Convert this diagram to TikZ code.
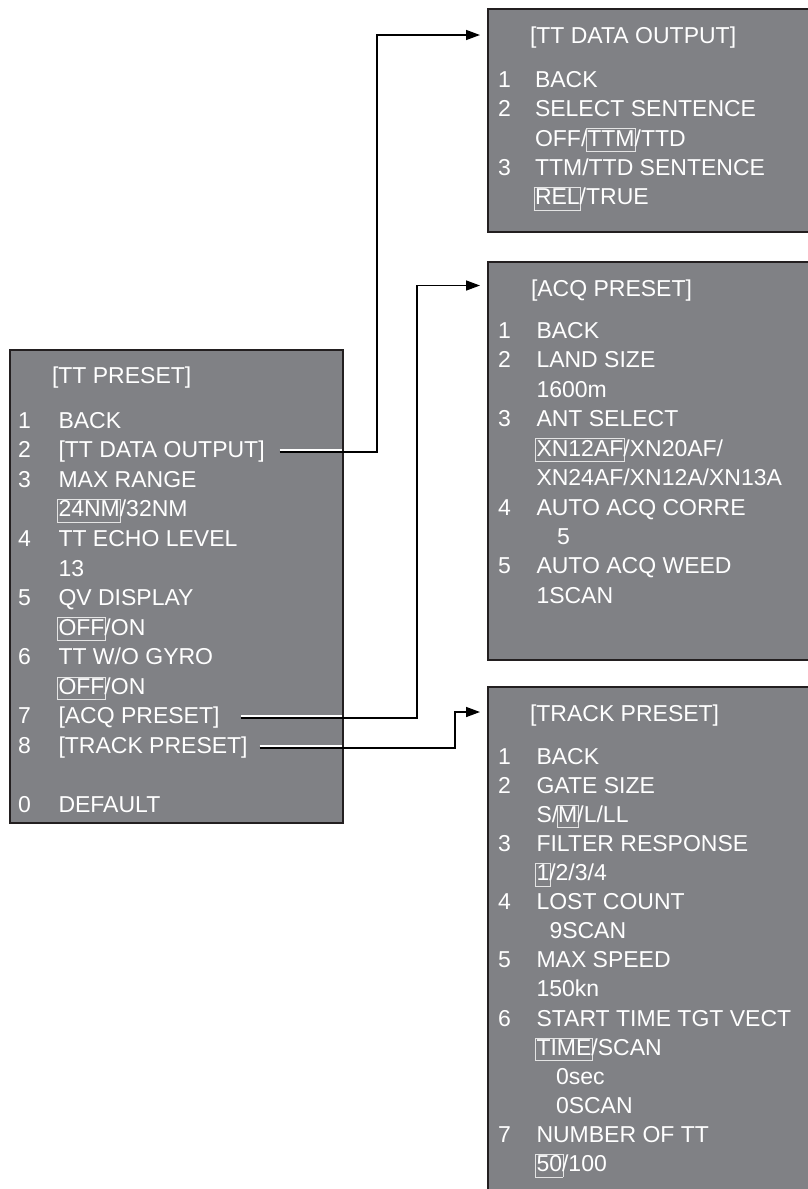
\documentclass[tikz,border=0pt]{standalone}
\usepackage{fontspec}
\setmainfont{Liberation Sans}
\usetikzlibrary{calc,arrows.meta}
\definecolor{panel}{RGB}{128,129,133}
\definecolor{edge}{RGB}{35,31,32}
\definecolor{hlframe}{RGB}{228,228,228}
\newcommand\hl[1]{{\setlength\fboxsep{0.6pt}\setlength\fboxrule{0.8pt}\kern-1.4pt\color{hlframe}\fbox{\color{white}\rule[-4.5pt]{0pt}{20.8pt}#1}\kern-1.4pt}}
\tikzset{
  panelbox/.style={draw=edge, line width=2pt, fill=panel, inner sep=0pt, outer sep=0pt, anchor=north west},
  txt/.style={anchor=base west, inner sep=0pt, outer sep=0pt, text=white, font=\fontsize{23}{27}\selectfont},
  link/.style={draw=black, line width=1.5pt},
  arrowlink/.style={link, -{Triangle[length=14pt,width=10pt]}},
  casing/.style={draw=white, line width=1.3pt},
}
\begin{document}
\begin{tikzpicture}[x=1pt,y=-1pt]
\useasboundingbox (0,0) rectangle (808,1189);
\clip (0,0) rectangle (808,1189);
% panels
\node[panelbox, minimum width=333pt, minimum height=473pt] (boxA) at (10,350) {};
\node[panelbox, minimum width=330pt, minimum height=223pt] (boxB) at (488,9) {};
\node[panelbox, minimum width=330pt, minimum height=398pt] (boxC) at (488,262) {};
\node[panelbox, minimum width=330pt, minimum height=520pt] (boxD) at (488,687) {};

% TT PRESET
\node[txt] (a0) at (52,383) {[TT PRESET]};
\node[txt] (an1) at (18,428.3) {1};   \node[txt] (a1) at (58.5,428.3) {BACK};
\node[txt] (an2) at (18,457.85) {2};  \node[txt] (a2) at (58.5,457.85) {[TT DATA OUTPUT]};
\node[txt] (an3) at (18,487.4) {3};   \node[txt] (a3) at (58.5,487.4) {MAX RANGE};
\node[txt] (a3b) at (58.5,516.95) {\hl{24NM}/32NM};
\node[txt] (an4) at (18,546.5) {4};   \node[txt] (a4) at (58.5,546.5) {TT ECHO LEVEL};
\node[txt] (a4b) at (58.5,576.05) {13};
\node[txt] (an5) at (18,605.6) {5};   \node[txt] (a5) at (58.5,605.6) {QV DISPLAY};
\node[txt] (a5b) at (58.5,635.15) {\hl{OFF}/ON};
\node[txt] (an6) at (18,664.7) {6};   \node[txt] (a6) at (58.5,664.7) {TT W/O GYRO};
\node[txt] (a6b) at (58.5,694.25) {\hl{OFF}/ON};
\node[txt] (an7) at (18,723.8) {7};   \node[txt] (a7) at (58.5,723.8) {[ACQ PRESET]};
\node[txt] (an8) at (18,753.35) {8};  \node[txt] (a8) at (58.5,753.35) {[TRACK PRESET]};
\node[txt] (an0) at (18,812) {0};     \node[txt] (a9) at (58.5,812) {DEFAULT};

% TT DATA OUTPUT
\node[txt] (b0) at (530,43) {[TT DATA OUTPUT]};
\node[txt] (bn1) at (498,87.3) {1};   \node[txt] (b1) at (535,87.3) {BACK};
\node[txt] (bn2) at (498,116.7) {2};  \node[txt] (b2) at (535,116.7) {SELECT SENTENCE};
\node[txt] (b2b) at (535,146.1) {OFF/\hl{TTM}/TTD};
\node[txt] (bn3) at (498,175.5) {3};  \node[txt] (b3) at (535,175.5) {TTM/TTD SENTENCE};
\node[txt] (b3b) at (535,204.9) {\hl{REL}/TRUE};

% ACQ PRESET
\node[txt] (c0) at (531,296) {[ACQ PRESET]};
\node[txt] (cn1) at (498,338.3) {1};   \node[txt] (c1) at (536.5,338.3) {BACK};
\node[txt] (cn2) at (498,367.75) {2};  \node[txt] (c2) at (536.5,367.75) {LAND SIZE};
\node[txt] (c2b) at (536.5,397.2) {1600m};
\node[txt] (cn3) at (498,426.65) {3};  \node[txt] (c3) at (536.5,426.65) {ANT SELECT};
\node[txt] (c3b) at (536.5,456.1) {\hl{XN12AF}/XN20AF/};
\node[txt] (c3c) at (536.5,485.55) {XN24AF/XN12A/XN13A};
\node[txt] (cn4) at (498,515) {4};     \node[txt] (c4) at (536.5,515) {AUTO ACQ CORRE};
\node[txt] (c4b) at (557,544.45) {5};
\node[txt] (cn5) at (498,573.9) {5};   \node[txt] (c5) at (536.5,573.9) {AUTO ACQ WEED};
\node[txt] (c5b) at (536.5,603.35) {1SCAN};

% TRACK PRESET
\node[txt] (d0) at (530,721) {[TRACK PRESET]};
\node[txt] (dn1) at (498,764) {1};      \node[txt] (d1) at (536.5,764) {BACK};
\node[txt] (dn2) at (498,793.12) {2};   \node[txt] (d2) at (536.5,793.12) {GATE SIZE};
\node[txt] (d2b) at (536.5,822.24) {S/\hl{M}/L/LL};
\node[txt] (dn3) at (498,851.36) {3};   \node[txt] (d3) at (536.5,851.36) {FILTER RESPONSE};
\node[txt] (d3b) at (536.5,880.48) {\hl{1}/2/3/4};
\node[txt] (dn4) at (498,909.6) {4};    \node[txt] (d4) at (536.5,909.6) {LOST COUNT};
\node[txt] (d4b) at (549.5,938.72) {9SCAN};
\node[txt] (dn5) at (498,967.84) {5};   \node[txt] (d5) at (536.5,967.84) {MAX SPEED};
\node[txt] (d5b) at (536.5,996.96) {150kn};
\node[txt] (dn6) at (498,1026.08) {6};  \node[txt] (d6) at (536.5,1026.08) {START TIME TGT VECT};
\node[txt] (d6b) at (536.5,1055.2) {\hl{TIME}/SCAN};
\node[txt] (d6c) at (556,1084.32) {0sec};
\node[txt] (d6d) at (556,1113.44) {0SCAN};
\node[txt] (dn7) at (498,1142.56) {7};  \node[txt] (d7) at (536.5,1142.56) {NUMBER OF TT};
\node[txt] (d7b) at (536.5,1171.68) {\hl{50}/100};

% connector coordinates
\coordinate (s1) at ($(a2.base east)+(15,-6)$);
\coordinate (s2) at ($(a7.base east)+(21,-6)$);
\coordinate (s3) at ($(a8.base east)+(12,-5.5)$);
\coordinate (k1) at (377,0);
\coordinate (k2) at (417,0);
\coordinate (k3) at (455,0);
\coordinate (e1) at ($(boxB.west |- b0.base)+(-8,-8)$);
\coordinate (e2) at ($(boxC.west |- c0.base)+(-8,-10.5)$);
\coordinate (e3) at ($(boxD.west |- d0.base)+(-8,-9)$);

% white casing inside the panel
\draw[casing] ($(s1)+(0,-1.8)$) -- ($(s1 -| boxA.east)+(-1,-1.8)$);
\draw[casing] ($(s2)+(0,-1.8)$) -- ($(s2 -| boxA.east)+(-1,-1.8)$);
\draw[casing] ($(s3)+(0,-1.8)$) -- ($(s3 -| boxA.east)+(-1,-1.8)$);

% connectors
\draw[arrowlink] (s1) -- (s1 -| k1) -- (k1 |- e1) -- (e1);
\draw[arrowlink] (s2) -- (s2 -| k2) -- (k2 |- e2) -- (e2);
\draw[arrowlink] (s3) -- (s3 -| k3) -- (k3 |- e3) -- (e3);
\end{tikzpicture}
\end{document}
